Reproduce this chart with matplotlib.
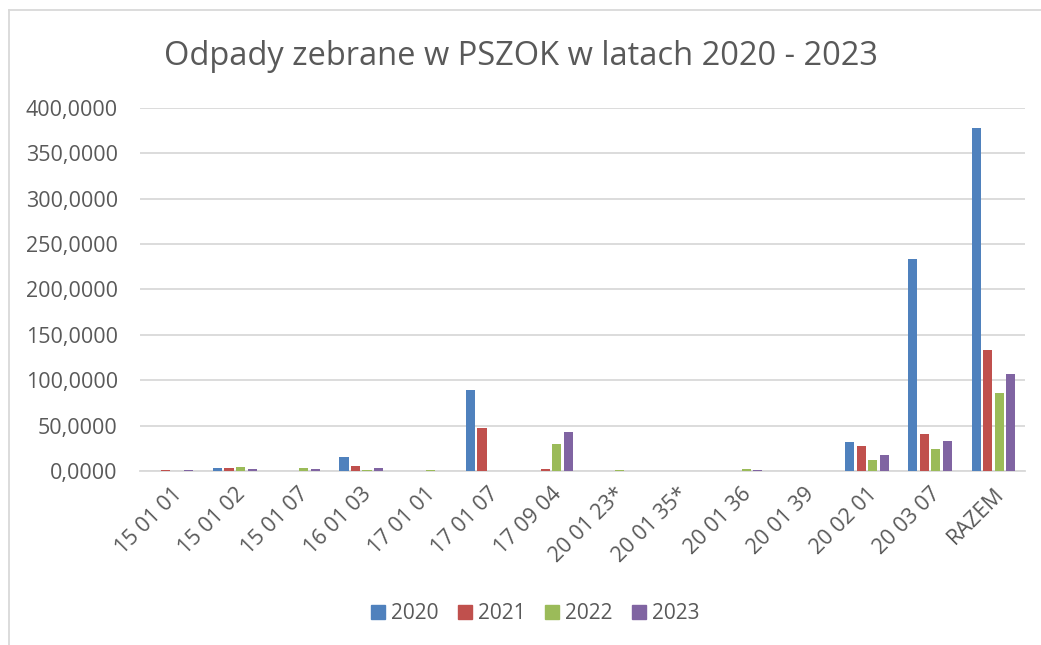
import matplotlib.pyplot as plt
import matplotlib.lines as mlines
import numpy as np
from matplotlib.ticker import FuncFormatter

plt.rcParams['font.family'] = ['Open Sans', 'DejaVu Sans']

codes = ['15 01 01', '15 01 02', '15 01 07', '16 01 03', '17 01 01', '17 01 07', '17 09 04',
         '20 01 23*', '20 01 35*', '20 01 36', '20 01 39', '20 02 01', '20 03 07', 'RAZEM']
y2020 = [0, 3.0, 0, 15.8, 0, 89.2, 0, 0, 0, 0, 0, 32.0, 233.6, 377.5]
y2021 = [1.0, 3.5, 0, 5.5, 0, 47.7, 1.7, 0, 0, 0, 0, 27.6, 40.5, 133.2]
y2022 = [0, 4.8, 3.3, 1.1, 1.0, 0, 29.4, 1.5, 0, 1.8, 0, 12.1, 24.6, 85.7]
y2023 = [0.8, 2.5, 2.0, 3.7, 0, 0, 42.6, 0, 0, 1.0, 0, 17.3, 32.8, 107.0]
years = ['2020', '2021', '2022', '2023']
colors = ['#4F81BD', '#C0504D', '#9BBB59', '#8064A2']

fig = plt.figure(figsize=(10.41, 6.45), dpi=100)
ax = fig.add_axes([0.1345, 0.2698, 0.8501, 0.5628])

x = np.arange(len(codes))
w = 0.145
step = 0.182
for i, (vals, lab, c) in enumerate(zip([y2020, y2021, y2022, y2023], years, colors)):
    ax.bar(x + (i - 1.5) * step, vals, width=w, color=c, label=lab, zorder=3)

ax.set_xlim(-0.5, len(codes) - 0.5)
ax.set_ylim(0, 400)
ax.set_yticks(np.arange(0, 401, 50))
ax.yaxis.set_major_formatter(FuncFormatter(lambda v, p: f'{v:.4f}'.replace('.', ',')))
ax.grid(axis='y', color='#D9D9D9', linewidth=1.3, zorder=0)
for s in ['top', 'right', 'left']:
    ax.spines[s].set_visible(False)
ax.spines['bottom'].set_color('#D9D9D9')
ax.spines['bottom'].set_linewidth(1.3)
ax.tick_params(axis='both', length=0, colors='#595959', labelsize=15.5)
ax.tick_params(axis='y', pad=16)
ax.set_xticks(x)
ax.set_xticklabels(codes, rotation=45, ha='right', rotation_mode='anchor')
ax.tick_params(axis='x', pad=9)

fig.text(0.5, 0.913, 'Odpady zebrane w PSZOK w latach 2020 - 2023', ha='center', va='center',
         fontsize=23.5, color='#595959')

handles = [mlines.Line2D([], [], marker='s', linestyle='none', markersize=10,
                         markerfacecolor=c, markeredgecolor=c) for c in colors]
leg = fig.legend(handles, years, loc='center', bbox_to_anchor=(0.514, 0.049), ncol=4,
                 frameon=False, fontsize=15, handlelength=0.7, columnspacing=0.9,
                 handletextpad=0.3)
for t in leg.get_texts():
    t.set_color('#595959')

fig.add_artist(mlines.Line2D([8.5 / 1041, 8.5 / 1041], [0, 1 - 10 / 645], color='#D9D9D9', lw=1.3,
                             transform=fig.transFigure))
fig.add_artist(mlines.Line2D([8.5 / 1041, 1], [1 - 10 / 645, 1 - 10 / 645], color='#D9D9D9', lw=1.3,
                             transform=fig.transFigure))

fig.savefig('out.png', dpi=100)
